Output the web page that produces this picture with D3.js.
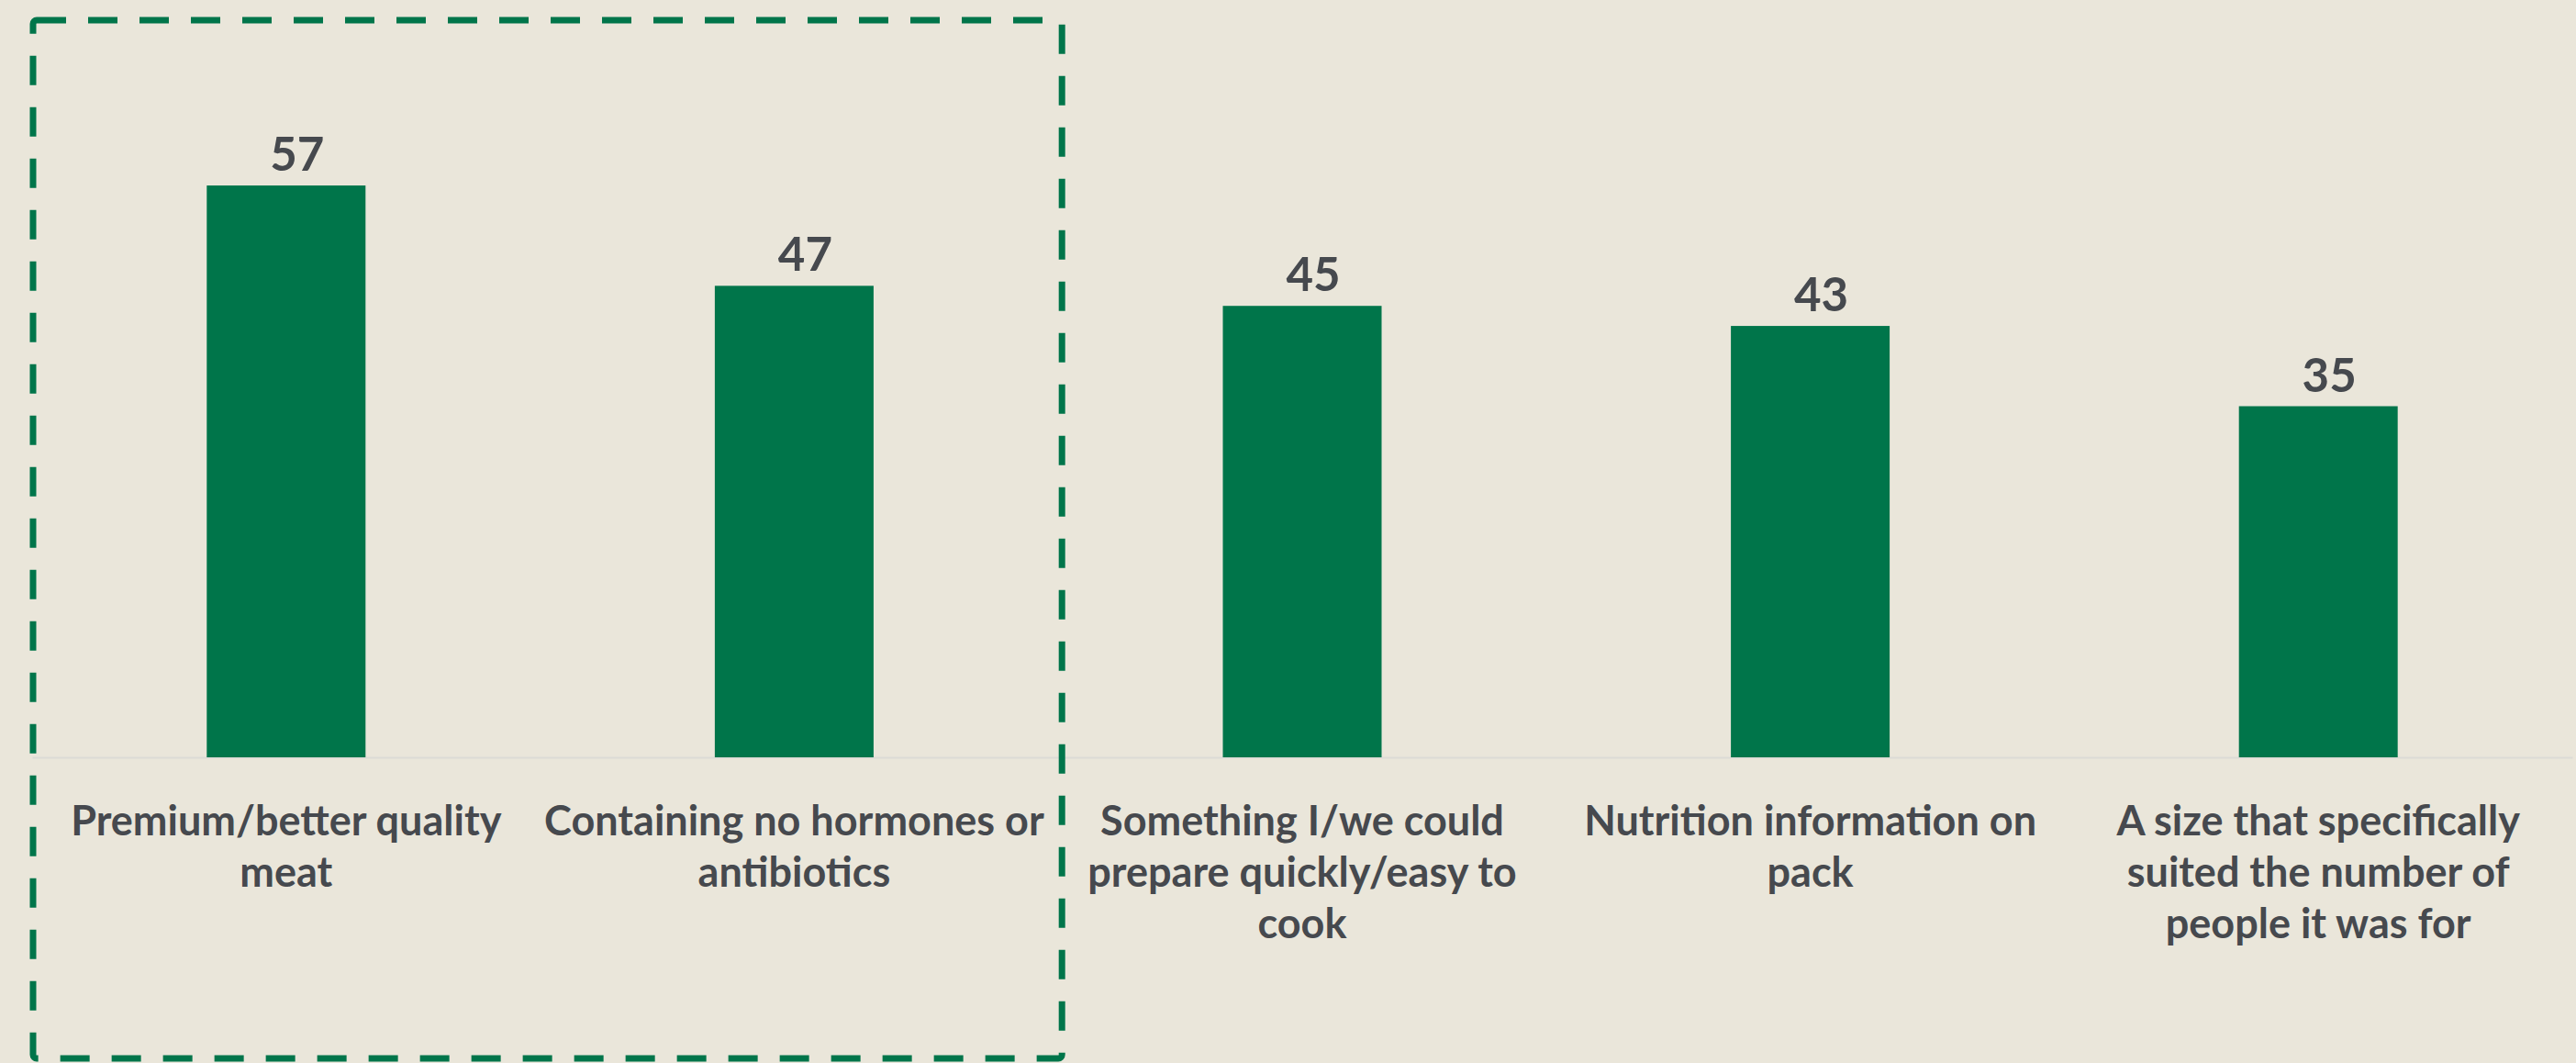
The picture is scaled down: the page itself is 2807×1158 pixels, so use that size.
<!DOCTYPE html>
<html>
<head>
<meta charset="utf-8">
<script src="https://cdn.jsdelivr.net/npm/d3@7"></script>
<style>
  html, body { margin: 0; padding: 0; background: #eae6da; }
  svg { display: block; }
</style>
</head>
<body>
<div id="chart"></div>
<script>
const categories = [
  "Premium/better quality meat",
  "Containing no hormones or antibiotics",
  "Something I/we could prepare quickly/easy to cook",
  "Nutrition information on pack",
  "A size that specifically suited the number of people it was for"
];
const values = [57, 47, 45, 43, 35];
const highlighted = categories.slice(0, 2);

const width = 2807,
  height = 1158,
  baseline = 825,
  green = "#00754a",
  textColor = "#46494e",
  font = "Lato, 'Open Sans', sans-serif";

const svg = d3
  .select("#chart")
  .append("svg")
  .attr("width", width)
  .attr("height", height);

svg
  .append("rect")
  .attr("width", width)
  .attr("height", height)
  .attr("fill", "#eae6da");

const x = d3
  .scaleBand()
  .domain(categories)
  .range([35, 2803])
  .paddingInner(0.6875)
  .paddingOuter(0.34375);

const y = d3
  .scaleLinear()
  .domain([0, 70])
  .range([baseline, 60]);

// baseline axis, labels drawn separately
const xAxis = d3.axisBottom(x).tickSize(0).tickFormat("");
const axisG = svg
  .append("g")
  .attr("transform", "translate(0," + baseline + ")")
  .call(xAxis);
axisG
  .select(".domain")
  .attr("stroke", "#dcdbd6")
  .attr("stroke-width", 2);

svg
  .selectAll(".bar")
  .data(values)
  .enter()
  .append("rect")
  .attr("class", "bar")
  .attr("x", (d, i) => x(categories[i]))
  .attr("y", d => y(d))
  .attr("width", x.bandwidth())
  .attr("height", d => y(0) - y(d))
  .attr("fill", green);

svg
  .selectAll(".value")
  .data(values)
  .enter()
  .append("text")
  .attr("class", "value")
  .attr("x", (d, i) => x(categories[i]) + x.bandwidth() / 2 + 12)
  .attr("y", d => y(d) - 16)
  .attr("text-anchor", "middle")
  .style("font-family", font)
  .style("font-weight", "bold")
  .style("font-size", "51px")
  .style("fill", textColor)
  .text(d => d);

function wrap(textSel, maxWidth) {
  textSel.each(function() {
    const text = d3.select(this);
    const words = text.text().split(/\s+/);
    const cx = text.attr("x");
    text.text(null);
    let line = [];
    let tspan = text.append("tspan").attr("x", cx).attr("dy", 0);
    words.forEach(w => {
      line.push(w);
      tspan.text(line.join(" "));
      if (tspan.node().getComputedTextLength() > maxWidth && line.length > 1) {
        line.pop();
        tspan.text(line.join(" "));
        line = [w];
        tspan = text
          .append("tspan")
          .attr("x", cx)
          .attr("dy", 56)
          .text(w);
      }
    });
  });
}

svg
  .selectAll(".cat")
  .data(categories)
  .enter()
  .append("text")
  .attr("class", "cat")
  .attr("x", d => x(d) + x.bandwidth() / 2)
  .attr("y", baseline + 85)
  .attr("text-anchor", "middle")
  .style("font-family", font)
  .style("font-weight", "bold")
  .style("font-size", "45px")
  .style("fill", textColor)
  .text(d => d)
  .call(wrap, x.step() - 3);

// dashed highlight round the first two categories
const boxLeft = 36,
  boxRight = x(highlighted[1]) + x.bandwidth() / 2 + x.step() / 2 + 15;
svg
  .append("rect")
  .attr("x", boxLeft)
  .attr("y", 22)
  .attr("width", boxRight - boxLeft)
  .attr("height", 1131)
  .attr("rx", 4)
  .attr("fill", "none")
  .attr("stroke", green)
  .attr("stroke-width", 7)
  .attr("stroke-dasharray", "32,24");
</script>
</body>
</html>
